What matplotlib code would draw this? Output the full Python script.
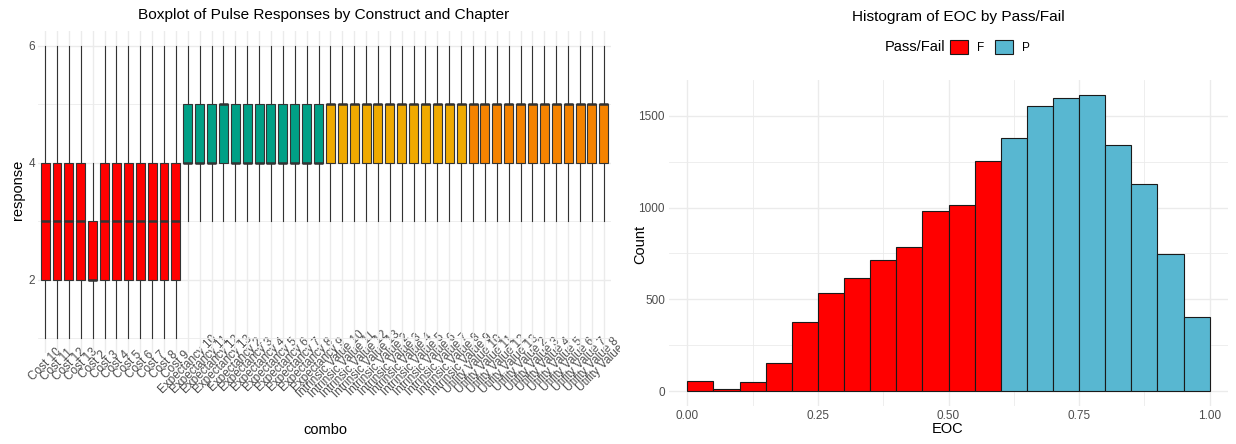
import matplotlib
matplotlib.use("Agg")
import matplotlib.pyplot as plt
from matplotlib.patches import Patch
from matplotlib.transforms import ScaledTranslation, Bbox, TransformedBbox

plt.rcParams['font.family'] = ['Liberation Sans', 'DejaVu Sans']

# ---- boxplot data (one entry per construct/chapter combo) ----
constructs = ["Cost", "Expectancy", "Intrinsic Value", "Utility Value"]
chapters = ["10", "11", "12", "13", "2", "3", "4", "5", "6", "7", "8", "9"]
construct_colors = {"Cost": "#FF0000", "Expectancy": "#00A086",
                    "Intrinsic Value": "#F0AA00", "Utility Value": "#F58300"}

combo = [c + " " + ch for c in constructs for ch in chapters]

whislo = [1, 1, 1, 1, 1, 1, 1, 1, 1, 1, 1, 1,
          3, 3, 3, 3, 3, 3, 3, 3, 3, 3, 3, 3,
          3, 3, 3, 3, 3, 3, 3, 3, 3, 3, 3, 3,
          3, 3, 3, 3, 3, 3, 3, 3, 3, 3, 3, 3]
q1 = [2, 2, 2, 2, 2, 2, 2, 2, 2, 2, 2, 2,
      4, 4, 4, 4, 4, 4, 4, 4, 4, 4, 4, 4,
      4, 4, 4, 4, 4, 4, 4, 4, 4, 4, 4, 4,
      4, 4, 4, 4, 4, 4, 4, 4, 4, 4, 4, 4]
med = [3, 3, 3, 3, 2, 3, 3, 3, 3, 3, 3, 3,
       4, 4, 4, 5, 4, 4, 4, 4, 4, 4, 4, 4,
       5, 5, 5, 5, 5, 5, 5, 5, 5, 5, 5, 5,
       5, 5, 5, 5, 5, 5, 5, 5, 5, 5, 5, 5]
q3 = [4, 4, 4, 4, 3, 4, 4, 4, 4, 4, 4, 4,
      5, 5, 5, 5, 5, 5, 5, 5, 5, 5, 5, 5,
      5, 5, 5, 5, 5, 5, 5, 5, 5, 5, 5, 5,
      5, 5, 5, 5, 5, 5, 5, 5, 5, 5, 5, 5]
whishi = [6, 6, 6, 6, 4, 6, 6, 6, 6, 6, 6, 6,
          6, 6, 6, 6, 6, 6, 6, 6, 6, 6, 6, 6,
          6, 6, 6, 6, 6, 6, 6, 6, 6, 6, 6, 6,
          6, 6, 6, 6, 6, 6, 6, 6, 6, 6, 6, 6]

# ---- histogram data ----
bin_left = [0.00, 0.05, 0.10, 0.15, 0.20, 0.25, 0.30, 0.35, 0.40, 0.45,
            0.50, 0.55, 0.60, 0.65, 0.70, 0.75, 0.80, 0.85, 0.90, 0.95]
counts = [56, 9, 47, 154, 377, 537, 615, 716, 787, 981,
          1016, 1252, 1382, 1553, 1598, 1614, 1342, 1128, 747, 401]
pass_fail = ["F"] * 12 + ["P"] * 8
pf_colors = {"F": "#FF0000", "P": "#58B7D1"}

grid_col = "#EBEBEB"
text_col = "#4D4D4D"

fig = plt.figure(figsize=(12.36, 4.44), dpi=100)

# ---------------- left: boxplot ----------------
ax1 = fig.add_axes([0.0307, 0.2059, 0.4636, 0.7234])
stats = []
for i in range(len(combo)):
    stats.append({"whislo": whislo[i], "q1": q1[i], "med": med[i],
                  "q3": q3[i], "whishi": whishi[i], "fliers": []})
pos = list(range(1, len(combo) + 1))
bp = ax1.bxp(stats, positions=pos, widths=0.75, patch_artist=True,
             showcaps=False,
             boxprops=dict(edgecolor="#333333", linewidth=0.8),
             medianprops=dict(color="#333333", linewidth=1.8),
             whiskerprops=dict(color="#333333", linewidth=0.8))
for box, name in zip(bp["boxes"], combo):
    cons = name.rsplit(" ", 1)[0]
    box.set_facecolor(construct_colors[cons])

ax1.set_xlim(0.4, len(combo) + 0.6)
ax1.set_ylim(0.75, 6.25)
ax1.set_yticks([2, 4, 6])
ax1.set_yticks([1, 3, 5], minor=True)
ax1.set_xticks(pos)
ax1.set_xticklabels(combo, rotation=45, ha="center", va="center",
                    rotation_mode="anchor", fontsize=8.5, color=text_col)
ax1.tick_params(axis="y", labelsize=8.5, labelcolor=text_col, pad=2)
ax1.tick_params(axis="x", pad=0)
ax1.tick_params(length=0)
ax1.tick_params(which="minor", length=0)
ax1.grid(True, which="major", color=grid_col, linewidth=1.0)
ax1.grid(True, which="minor", axis="y", color=grid_col, linewidth=0.6)
ax1.set_axisbelow(True)
for s in ax1.spines.values():
    s.set_visible(False)

# labels are centred under their tick (ggplot angle=45), cut at the plot edge
shift = ScaledTranslation(0, -12 / 100, fig.dpi_scale_trans)
clip = TransformedBbox(Bbox([[0, 0], [620 / 1236, 1]]), fig.transFigure)
for lab in ax1.get_xticklabels():
    lab.set_transform(lab.get_transform() + shift)
    lab.set_clip_box(clip)
    lab.set_clip_on(True)

fig.text(0.262, 0.966, "Boxplot of Pulse Responses by Construct and Chapter",
         ha="center", va="center", fontsize=11.1)
fig.text(0.263, 0.032, "combo", ha="center", va="center", fontsize=10.5)
fig.text(0.0145, 0.572, "response", ha="center", va="center",
         rotation=90, fontsize=10.5)

# ---------------- right: histogram ----------------
ax2 = fig.add_axes([0.5413, 0.086, 0.4522, 0.7334])
ax2.bar(bin_left, counts, width=0.05, align="edge",
        color=[pf_colors[p] for p in pass_fail],
        edgecolor="#1A1A1A", linewidth=0.8)
ax2.set_xlim(-0.035, 1.035)
ax2.set_ylim(-80.7, 1694.7)
ax2.set_xticks([0, 0.25, 0.5, 0.75, 1.0])
ax2.set_xticklabels(["0.00", "0.25", "0.50", "0.75", "1.00"])
ax2.set_xticks([0.125, 0.375, 0.625, 0.875], minor=True)
ax2.set_yticks([0, 500, 1000, 1500])
ax2.set_yticks([250, 750, 1250], minor=True)
ax2.tick_params(labelsize=8.5, labelcolor=text_col, length=0, pad=3)
ax2.tick_params(which="minor", length=0)
ax2.grid(True, which="major", color=grid_col, linewidth=1.0)
ax2.grid(True, which="minor", color=grid_col, linewidth=0.6)
ax2.set_axisbelow(True)
for s in ax2.spines.values():
    s.set_visible(False)
fig.text(0.767, 0.033, "EOC", ha="center", va="center", fontsize=10.5)
fig.text(0.518, 0.45, "Count", ha="center", va="center",
         rotation=90, fontsize=10.5)
fig.text(0.775, 0.962, "Histogram of EOC by Pass/Fail",
         ha="center", va="center", fontsize=11.1)

# legend on top, horizontal
fig.text(0.7645, 0.894, "Pass/Fail", ha="right", va="center", fontsize=10.5)
handles = [Patch(facecolor=pf_colors[k], edgecolor="#1A1A1A", linewidth=0.8, label=k)
           for k in ["F", "P"]]
fig.legend(handles=handles, loc="center left", bbox_to_anchor=(0.7685, 0.894),
           ncol=2, frameon=False, fontsize=8.5, handlelength=1.5,
           handleheight=1.5, handletextpad=0.8, columnspacing=0.9,
           borderpad=0.0, borderaxespad=0.0)

fig.savefig("out.png", dpi=100)
